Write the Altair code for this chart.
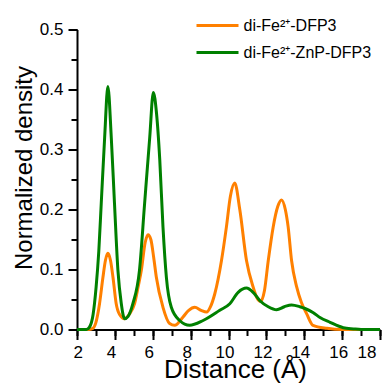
import altair as alt
import pandas as pd

# ---- data ----
series_names = ["di-Fe²⁺-DFP3", "di-Fe²⁺-ZnP-DFP3"]
series_colors = ["#FF8000", "#008000"]

dist_a = [2.0, 2.6, 2.84, 3.0, 3.19, 3.37, 3.5, 3.63, 3.77, 3.9, 4.07, 4.25, 4.51, 4.75,
          5.04, 5.22, 5.4, 5.6, 5.75, 5.9, 6.05, 6.19, 6.54, 6.89, 7.16, 7.6, 7.9, 8.22,
          8.55, 8.84, 9.05, 9.28, 9.63, 9.89, 10.1, 10.33, 10.6, 10.95, 11.3, 11.5, 11.7,
          11.9, 12.1, 12.36, 12.6, 12.8, 13.0, 13.15, 13.33, 13.6, 13.85, 14.13, 14.46,
          15.2, 16.0, 17.0, 18.0]
dens_a = [0.0, 0.0, 0.002, 0.012, 0.043, 0.087, 0.115, 0.127, 0.115, 0.087, 0.043, 0.025,
          0.018, 0.025, 0.043, 0.07, 0.099, 0.145, 0.158, 0.15, 0.12, 0.087, 0.037, 0.01,
          0.007, 0.021, 0.032, 0.037, 0.032, 0.029, 0.038, 0.06, 0.115, 0.171, 0.222,
          0.244, 0.199, 0.115, 0.071, 0.053, 0.047, 0.065, 0.115, 0.171, 0.205, 0.216,
          0.2, 0.171, 0.115, 0.071, 0.045, 0.026, 0.007, 0.002, 0.0, 0.0, 0.0]

dist_b = [2.0, 2.5, 2.66, 2.85, 3.01, 3.15, 3.28, 3.46, 3.63, 3.81, 3.98, 4.16, 4.34,
          4.51, 4.7, 4.95, 5.3, 5.57, 5.84, 6.03, 6.2, 6.37, 6.54, 6.72, 6.98, 7.42,
          7.95, 8.66, 9.54, 10.07, 10.51, 10.95, 11.3, 11.66, 12.1, 12.54, 12.95, 13.33,
          13.77, 14.04, 14.48, 14.83, 15.36, 16.06, 16.6, 17.0, 18.0]
dens_b = [0.0, 0.0, 0.004, 0.025, 0.071, 0.13, 0.21, 0.32, 0.405, 0.32, 0.21, 0.099,
          0.043, 0.018, 0.022, 0.043, 0.099, 0.21, 0.32, 0.395, 0.36, 0.283, 0.171,
          0.087, 0.037, 0.015, 0.007, 0.015, 0.032, 0.043, 0.062, 0.069, 0.062, 0.048,
          0.038, 0.033, 0.038, 0.041, 0.038, 0.035, 0.028, 0.02, 0.012, 0.003, 0.001,
          0.0, 0.0]

x_major = [2, 4, 6, 8, 10, 12, 14, 16, 18]
x_minor = list(range(2, 19))
y_major = [0.0, 0.1, 0.2, 0.3, 0.4, 0.5]
y_minor = [0.0, 0.05, 0.1, 0.15, 0.2, 0.25, 0.3, 0.35, 0.4, 0.45, 0.5]

df = pd.concat([
    pd.DataFrame({"dist": dist_a, "dens": dens_a, "series": series_names[0], "k": 0}),
    pd.DataFrame({"dist": dist_b, "dens": dens_b, "series": series_names[1], "k": 1}),
], ignore_index=True)

xscale = alt.Scale(domain=[2, 18], nice=False, zero=False)
yscale = alt.Scale(domain=[0, 0.5], nice=False)

base = alt.Chart(df)

minor = base.mark_line(opacity=0).encode(
    x=alt.X("dist:Q", scale=xscale,
            axis=alt.Axis(values=x_minor, orient="bottom", tickSize=6, labels=False,
                          domain=False, title="")),
    y=alt.Y("dens:Q", scale=yscale,
            axis=alt.Axis(values=y_minor, orient="left", tickSize=6, labels=False,
                          domain=False, title="")),
    detail="series:N",
)

lines = base.mark_line(strokeWidth=3, interpolate="monotone").encode(
    x=alt.X("dist:Q", scale=xscale,
            axis=alt.Axis(values=x_major, orient="bottom", tickSize=10, format="d",
                          labelPadding=5, labelOffset=-4, title="Distance (Å)",
                          titleX=158, titleY=48, titleBaseline="alphabetic",
                          titleAlign="center", titleFontSize=26)),
    y=alt.Y("dens:Q", scale=yscale,
            axis=alt.Axis(values=y_major, orient="left", tickSize=9, format=".1f",
                          labelPadding=5, title="Normalized density",
                          titleX=-46, titleY=138, titleAngle=270,
                          titleBaseline="alphabetic", titleAlign="center",
                          titleFontSize=24)),
    color=alt.Color("series:N",
                    scale=alt.Scale(domain=series_names, range=series_colors),
                    legend=alt.Legend(orient="none", legendX=128.5, legendY=-16,
                                      title="", symbolType="M-2,0L2,0", symbolSize=441,
                                      symbolStrokeWidth=3, symbolFillColor="transparent",
                                      labelFontSize=16, labelOffset=14, rowPadding=7,
                                      padding=0, labelFont="Liberation Sans",
                                      labelColor="black", labelLimit=200)),
    order=alt.Order("k:Q"),
)

chart = alt.layer(minor, lines).resolve_axis(
    x="independent", y="independent"
).properties(
    width=303, height=300,
    padding={"left": 69, "top": 21.5, "right": 4, "bottom": 58},
    autosize=alt.AutoSizeParams(type="none"),
).configure_axis(
    labelFont="Liberation Sans", labelFontSize=17, labelColor="black",
    titleFont="Liberation Sans", titleFontWeight="normal",
    titleColor="black", domainColor="black", domainWidth=2, tickColor="black",
    tickWidth=2, grid=False,
).configure_view(stroke="transparent")

chart.save("out.html", embed_options={"renderer": "svg", "actions": False})
